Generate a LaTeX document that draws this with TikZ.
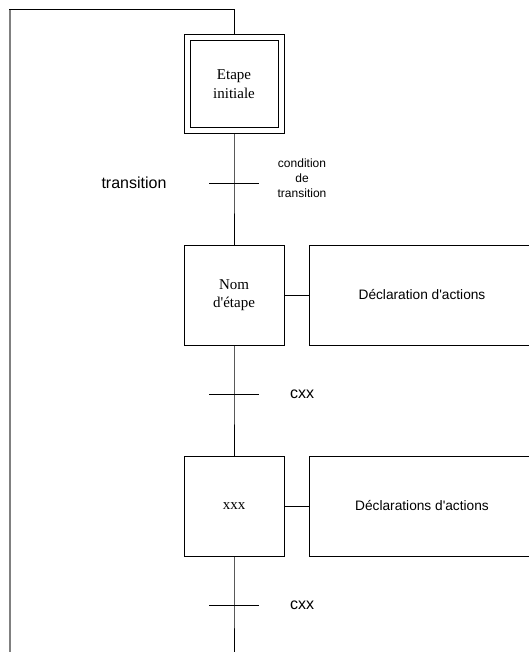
\documentclass[tikz,border=0pt]{standalone}
\usepackage{fontspec}
\setmainfont{Liberation Serif}[Ligatures=TeXOff]
\newfontfamily\sansfont{Liberation Sans}[Ligatures=TeXOff]
\begin{document}
\begin{tikzpicture}[x=1pt,y=-1pt,
  wire/.style={line width=0.8pt},
  loopwire/.style={line width=1.4pt,draw=black!50},
  stepbox/.style={draw,line width=0.8pt,minimum width=100pt,minimum height=100pt,
    inner sep=0pt,align=center,font=\fontsize{15}{18.5}\selectfont},
  innerbox/.style={draw,line width=0.8pt,minimum width=88pt,minimum height=87pt,inner sep=0pt},
  actbox/.style={draw,line width=0.8pt,minimum width=226pt,minimum height=100pt,
    inner sep=0pt,font=\sansfont\fontsize{13.7}{16}\selectfont},
  translabel/.style={font=\sansfont\fontsize{16}{18}\selectfont,inner sep=0pt},
  condlabel/.style={font=\sansfont\fontsize{12}{15}\selectfont,align=center,inner sep=0pt},
  bar/.style={line width=0.8pt}
]
\useasboundingbox (0,0) rectangle (529,652);

% initial step (double frame)
\node[stepbox,minimum height=99pt] (init) at (234,84) {};
\node[innerbox,align=center,font=\fontsize{15}{18.5}\selectfont] (initin) at (234,84) {Etape\\initiale};

% steps and their actions
\node[stepbox] (s1) at (234,295) {Nom\\d'étape};
\node[actbox] (a1) at (422,295) {Déclaration d'actions};
\node[stepbox] (s2) at (234,506) {xxx};
\node[actbox] (a2) at (422,506) {Déclarations d'actions};

% transitions
\coordinate (t0) at (234,183);
\coordinate (t1) at (234,394);
\coordinate (t2) at (234,605);
\coordinate (bottom) at (234,652);

% loop back to the initial step
\coordinate (loopbot) at (10,652);
\coordinate (looptop) at (10,9);
\coordinate (looptr) at (234,9);

\draw[loopwire] (loopbot) -- (looptop);
\draw[wire] ([xshift=-0.7pt]looptop) -- (looptr) -- (init.north);

% links
\draw[wire] (init.south) -- (t0) -- (s1.north);
\draw[wire] (s1.south) -- (t1) -- (s2.north);
\draw[wire] (s2.south) -- (t2) -- (bottom);
\draw[wire] (s1.east) -- (a1.west);
\draw[wire] (s2.east) -- (a2.west);

% transition bars
\foreach \t in {t0,t1,t2}
  \draw[bar] ([xshift=-25pt]\t) -- ([xshift=25pt]\t);

% labels
\node[translabel] (ltrans) at (134,183) {transition};
\node[condlabel] (lcond) at (302,178) {condition\\de\\transition};
\node[translabel,anchor=west] (lc1) at (290,394) {cxx};
\node[translabel,anchor=west] (lc2) at (290,605) {cxx};
\end{tikzpicture}
\end{document}
